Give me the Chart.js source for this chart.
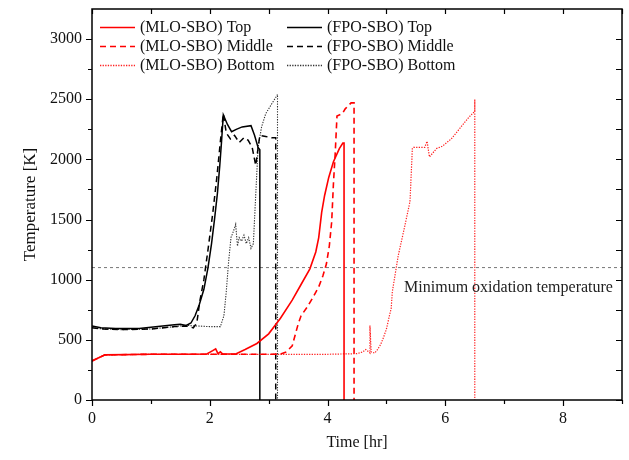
<!DOCTYPE html>
<html>
<head>
<meta charset="utf-8">
<script src="https://cdn.jsdelivr.net/npm/chart.js@4/dist/chart.umd.min.js"></script>
<style>
  body { margin: 0; background: #fff; }
  #wrap { width: 629px; height: 460px; }
</style>
</head>
<body>
<div id="wrap"><canvas id="chart"></canvas></div>
<script>
// MLO-SBO, top / middle / bottom : time [hr] and temperature [K]
const mloTopT = [0, 0.22, 1.0, 1.5, 1.95, 2.05, 2.1, 2.14, 2.18, 2.22, 2.3, 2.45, 2.6, 2.8, 3.0, 3.2, 3.4, 3.55, 3.7, 3.8, 3.85, 3.9, 3.95, 4.02, 4.1, 4.2, 4.26, 4.28, 4.28];
const mloTopK = [325, 375, 380, 380, 382, 410, 425, 385, 400, 382, 382, 385, 420, 470, 550, 680, 830, 960, 1090, 1230, 1350, 1560, 1700, 1850, 1980, 2090, 2135, 2135, 0];

const mloMidT = [0, 0.22, 1.0, 2.0, 3.0, 3.2, 3.3, 3.4, 3.45, 3.5, 3.55, 3.65, 3.75, 3.85, 3.92, 3.98, 4.03, 4.07, 4.1, 4.13, 4.16, 4.25, 4.3, 4.4, 4.45, 4.45];
const mloMidK = [325, 375, 380, 380, 380, 382, 400, 450, 540, 630, 700, 770, 850, 940, 1030, 1130, 1280, 1480, 1800, 2050, 2360, 2380, 2420, 2470, 2470, 0];

const mloBotT = [0, 0.22, 1.0, 2.0, 3.0, 4.0, 4.5, 4.6, 4.65, 4.7, 4.72, 4.72, 4.74, 4.8, 4.85, 4.9, 4.95, 5.0, 5.05, 5.08, 5.1, 5.15, 5.2, 5.3, 5.4, 5.44, 5.46, 5.65, 5.69, 5.73, 5.85, 5.95, 6.1, 6.25, 6.4, 6.48, 6.5, 6.5, 6.5];
const mloBotK = [325, 375, 380, 380, 380, 380, 385, 400, 420, 400, 390, 620, 400, 390, 420, 460, 520, 590, 700, 760, 900, 1050, 1200, 1420, 1650, 2090, 2100, 2100, 2150, 2020, 2090, 2110, 2170, 2260, 2350, 2390, 2400, 2500, 0];

// FPO-SBO, top / middle / bottom
const fpoTopT = [0, 0.15, 0.4, 0.8, 1.0, 1.2, 1.4, 1.5, 1.6, 1.68, 1.75, 1.82, 1.9, 1.97, 2.03, 2.08, 2.13, 2.17, 2.2, 2.23, 2.3, 2.37, 2.45, 2.55, 2.7, 2.76, 2.82, 2.85, 2.85];
const fpoTopK = [615, 600, 595, 595, 605, 615, 625, 630, 620, 640, 700, 790, 920, 1100, 1300, 1500, 1720, 1950, 2150, 2370, 2290, 2230, 2250, 2270, 2280, 2200, 2100, 2080, 0];

const fpoMidT = [0, 0.2, 0.5, 1.0, 1.4, 1.6, 1.72, 1.78, 1.83, 1.9, 1.97, 2.05, 2.12, 2.18, 2.23, 2.28, 2.35, 2.42, 2.5, 2.58, 2.65, 2.72, 2.78, 2.85, 2.95, 3.05, 3.12, 3.12];
const fpoMidK = [600, 590, 585, 590, 610, 615, 600, 640, 820, 1000, 1250, 1550, 1850, 2150, 2380, 2220, 2170, 2200, 2140, 2180, 2160, 2100, 1950, 2200, 2190, 2180, 2180, 0];

const fpoBotT = [0, 0.2, 0.5, 1.0, 1.4, 1.6, 1.8, 2.0, 2.18, 2.24, 2.28, 2.32, 2.36, 2.4, 2.44, 2.47, 2.5, 2.54, 2.58, 2.62, 2.66, 2.7, 2.74, 2.78, 2.82, 2.88, 2.95, 3.05, 3.14, 3.15, 3.15];
const fpoBotK = [600, 590, 585, 590, 610, 620, 615, 610, 610, 700, 900, 1150, 1350, 1400, 1460, 1280, 1350, 1320, 1370, 1300, 1350, 1260, 1300, 1700, 2100, 2270, 2380, 2460, 2530, 2540, 0];

// minimum oxidation temperature line
const oxT = [0, 9];
const oxK = [1100, 1100];
const oxLabel = 'Minimum oxidation temperature';

const xTicks = [0, 2, 4, 6, 8];
const yTicks = [0, 500, 1000, 1500, 2000, 2500, 3000];

const FONT = "'Liberation Serif', 'Times New Roman', serif";

function pts(ts, ks) {
    return ts.map((t, i) => ({ x: t, y: ks[i] }));
}

function series(label, ts, ks, color, dash, width) {
    return {
        label: label,
        data: pts(ts, ks),
        borderColor: color,
        borderWidth: width,
        borderDash: dash,
        pointRadius: 0,
        tension: 0,
        fill: false
    };
}

// frame with Origin-style ticks (in on top/right, out on left/bottom)
const frameTicks = {
    id: 'frameTicks',
    afterDatasetsDraw(chart) {
        const { ctx, chartArea: a, scales: { x, y } } = chart;
        ctx.save();
        ctx.strokeStyle = '#000';
        ctx.lineWidth = 1.2;
        ctx.beginPath();
        for (let t = 0; t <= 9; t++) {
            const px = Math.round(x.getPixelForValue(t)) + 0.5;
            const len = t % 2 === 0 ? 6 : 4;
            ctx.moveTo(px, a.bottom); ctx.lineTo(px, a.bottom + len);
            ctx.moveTo(px, a.top); ctx.lineTo(px, a.top + 5);
        }
        for (let k = 0; k <= 3000; k += 250) {
            const py = Math.round(y.getPixelForValue(k)) + 0.5;
            const len = k % 500 === 0 ? 6 : 4;
            ctx.moveTo(a.left, py); ctx.lineTo(a.left - len, py);
            ctx.moveTo(a.right, py); ctx.lineTo(a.right - 6, py);
        }
        ctx.stroke();
        ctx.lineWidth = 1.5;
        ctx.strokeRect(a.left, a.top, a.right - a.left, a.bottom - a.top);

        // label under the threshold line
        ctx.fillStyle = '#222';
        ctx.font = '16px ' + FONT;
        ctx.textBaseline = 'top';
        ctx.fillText(oxLabel, x.getPixelForValue(5.3), y.getPixelForValue(oxK[0]) + 12);

        // legend, two columns of three
        ctx.font = '16px ' + FONT;
        ctx.textBaseline = 'middle';
        chart.data.datasets.slice(0, 6).forEach((ds, i) => {
            const lx = [100, 287][Math.floor(i / 3)];
            const ly = [27, 46, 65][i % 3];
            ctx.strokeStyle = ds.borderColor;
            ctx.lineWidth = Math.max(ds.borderWidth, 1.3);
            ctx.setLineDash(ds.borderDash);
            ctx.beginPath();
            ctx.moveTo(lx, ly + 0.5); ctx.lineTo(lx + 35, ly + 0.5);
            ctx.stroke();
            ctx.setLineDash([]);
            ctx.fillStyle = '#111';
            ctx.fillText(ds.label, lx + 40, ly + 1);
        });
        ctx.restore();
    }
};

new Chart(document.getElementById('chart'), {
    type: 'line',
    data: {
        datasets: [
            series('(MLO-SBO) Top', mloTopT, mloTopK, '#ff0000', [], 1.6),
            series('(MLO-SBO) Middle', mloMidT, mloMidK, '#ff0000', [6, 4], 1.6),
            series('(MLO-SBO) Bottom', mloBotT, mloBotK, '#ff2020', [1.3, 1.3], 1.2),
            series('(FPO-SBO) Top', fpoTopT, fpoTopK, '#000000', [], 1.5),
            series('(FPO-SBO) Middle', fpoMidT, fpoMidK, '#000000', [6, 4], 1.5),
            series('(FPO-SBO) Bottom', fpoBotT, fpoBotK, '#333333', [1.3, 1.3], 1.1),
            series('oxidation', oxT, oxK, '#555555', [3, 3], 0.8)
        ]
    },
    options: {
        responsive: true,
        maintainAspectRatio: false,
        animation: false,
        layout: { padding: { top: 9, right: 7, left: 0, bottom: 0 } },
        plugins: { legend: { display: false }, tooltip: { enabled: false } },
        scales: {
            x: {
                type: 'linear',
                min: 0,
                max: 9,
                grid: { display: false, drawTicks: false },
                border: { display: false },
                afterFit: s => { s.height = 60; s.paddingLeft = 0; s.paddingRight = 0; },
                afterBuildTicks: s => { s.ticks = xTicks.map(v => ({ value: v })); },
                ticks: { color: '#111', padding: 9, font: { family: FONT, size: 16 }, callback: v => String(v) },
                title: {
                    display: true, text: 'Time [hr]', color: '#111',
                    font: { family: FONT, size: 16 }, padding: { top: 0, bottom: 8 }
                }
            },
            y: {
                type: 'linear',
                min: 0,
                max: 3250,
                grid: { display: false, drawTicks: false },
                border: { display: false },
                afterFit: s => { s.width = 92; s.paddingTop = 0; s.paddingBottom = 0; },
                afterBuildTicks: s => { s.ticks = yTicks.map(v => ({ value: v })); },
                ticks: { color: '#111', padding: 10, font: { family: FONT, size: 16 }, callback: v => String(v) },
                title: {
                    display: true, text: 'Temperature [K]', color: '#111',
                    font: { family: FONT, size: 17 }, padding: { top: 20, bottom: 0 }
                }
            }
        }
    },
    plugins: [frameTicks]
});
</script>
</body>
</html>
